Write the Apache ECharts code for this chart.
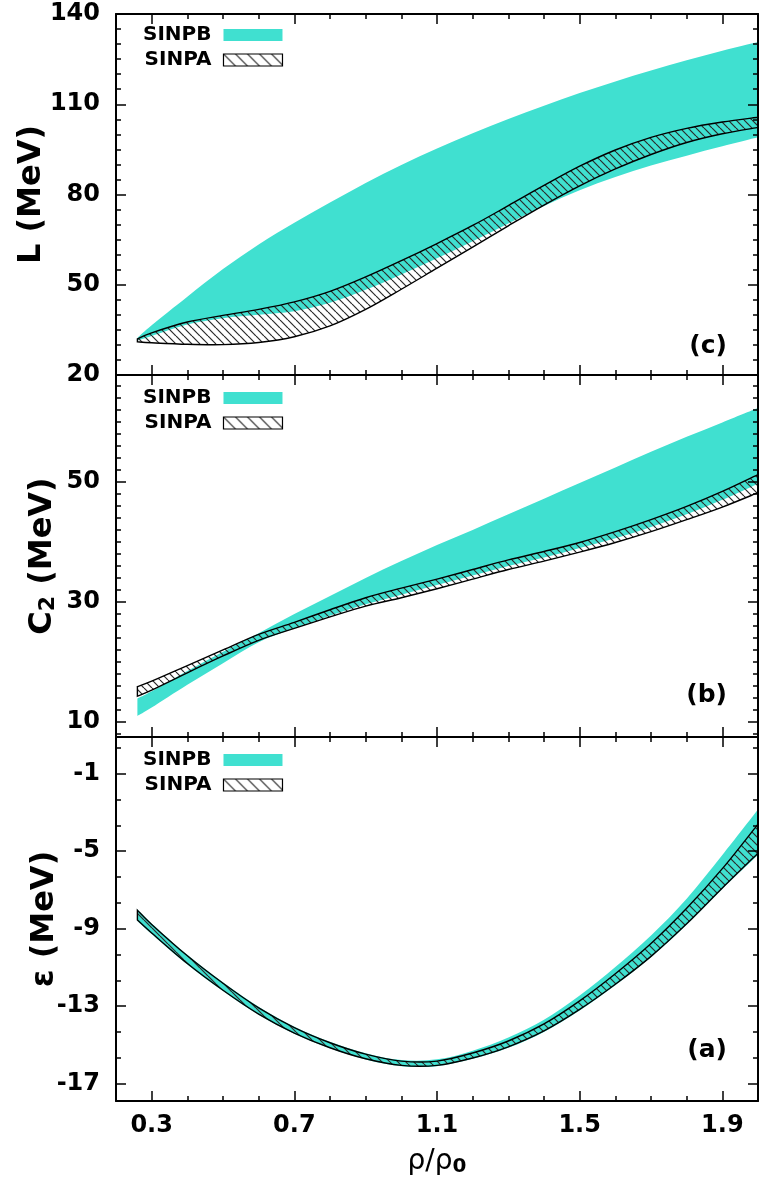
<!DOCTYPE html>
<html>
<head>
<meta charset="utf-8">
<script src="https://cdn.jsdelivr.net/npm/echarts@6/dist/echarts.min.js"></script>
<style>html,body{margin:0;padding:0;background:#fff}#c{width:760px;height:1184px}</style>
</head>
<body>
<div id="c"></div>
<script>
// ---------------- data ----------------
const rho = [0.26, 0.3, 0.4, 0.5, 0.6, 0.7, 0.8, 0.9, 1.0, 1.1, 1.2, 1.3, 1.4, 1.5, 1.6, 1.7, 1.8, 1.9, 2.0];

// panel (c): L (MeV)
const L_sinpb_lo = [31.5, 33.0, 36.8, 38.9, 40.0, 41.2, 44.0, 48.3, 53.4, 58.8, 64.5, 70.4, 76.2, 81.4, 85.8, 89.6, 92.9, 96.0, 99.0];
const L_sinpb_hi = [32.3, 36.5, 46.0, 55.2, 63.4, 70.6, 77.3, 83.8, 89.8, 95.3, 100.4, 105.1, 109.5, 113.7, 117.6, 121.2, 124.6, 127.8, 130.7];
const L_sinpa_lo = [31.0, 30.7, 30.2, 30.1, 30.8, 32.7, 36.3, 41.8, 48.5, 55.5, 62.5, 69.6, 76.5, 82.9, 88.5, 93.3, 97.3, 100.2, 102.3];
const L_sinpa_hi = [32.0, 34.0, 37.6, 39.8, 41.8, 44.3, 47.8, 52.6, 58.0, 63.7, 69.7, 76.3, 83.0, 89.4, 94.8, 99.0, 102.0, 104.1, 105.7];

// panel (b): C2 (MeV)
const C2_sinpb_lo = [11.0, 12.4, 16.2, 19.8, 23.3, 25.6, 27.7, 29.6, 31.2, 32.8, 34.4, 36.0, 37.4, 39.0, 40.6, 42.5, 44.6, 47.0, 49.7];
const C2_sinpb_hi = [13.9, 15.1, 18.5, 21.7, 24.8, 28.0, 31.0, 34.0, 36.8, 39.5, 42.0, 44.6, 47.2, 49.8, 52.4, 55.0, 57.5, 59.9, 62.3];
const C2_sinpa_lo = [14.3, 15.3, 18.2, 21.0, 23.6, 25.6, 27.5, 29.3, 30.7, 32.2, 33.8, 35.4, 36.8, 38.3, 39.9, 41.7, 43.7, 45.8, 48.2];
const C2_sinpa_hi = [15.9, 16.8, 19.4, 22.0, 24.6, 26.6, 28.7, 30.7, 32.3, 33.8, 35.4, 37.0, 38.4, 39.9, 41.7, 43.7, 45.9, 48.4, 51.2];

// panel (a): epsilon (MeV)
const E_sinpb_lo = [-8.6, -9.27, -10.85, -12.22, -13.45, -14.43, -15.18, -15.76, -16.1, -16.1, -15.72, -15.15, -14.33, -13.22, -11.92, -10.48, -8.8, -6.95, -5.2];
const E_sinpb_hi = [-8.0, -8.73, -10.35, -11.77, -13.03, -14.06, -14.84, -15.43, -15.78, -15.75, -15.3, -14.62, -13.7, -12.45, -10.98, -9.35, -7.45, -5.2, -2.85];
const E_sinpa_lo = [-8.55, -9.22, -10.8, -12.18, -13.41, -14.39, -15.15, -15.72, -16.06, -16.06, -15.68, -15.1, -14.28, -13.17, -11.87, -10.43, -8.75, -6.9, -5.1];
const E_sinpa_hi = [-8.05, -8.78, -10.4, -11.82, -13.09, -14.11, -14.89, -15.48, -15.84, -15.84, -15.42, -14.8, -13.92, -12.73, -11.33, -9.77, -7.95, -5.9, -3.6];

// ticks
const xMajorTicks = [0.3, 0.7, 1.1, 1.5, 1.9];
const yTicksL = [20, 50, 80, 110, 140];
const yTicksC2 = [10, 30, 50];
const yTicksE = [-17, -13, -9, -5, -1];

const legendNames = ['SINPB', 'SINPA'];
const panelLabels = ['(c)', '(b)', '(a)'];

// ---------------- style ----------------
const CYAN = '#40E0D0';
const FONT = 'DejaVu Sans';

function makeHatch(size) {
  const c = document.createElement('canvas');
  c.width = size; c.height = size;
  const g = c.getContext('2d');
  g.strokeStyle = '#2b2b2b';
  g.lineWidth = 1.2;
  for (const k of [-size, 0, size]) {
    g.beginPath(); g.moveTo(k, 0); g.lineTo(k + size, size); g.stroke();
  }
  return c;
}
const HATCH = { image: makeHatch(8), repeat: 'repeat' };
const HATCH_LEGEND = { image: makeHatch(12), repeat: 'repeat' };

function minorList(major, step, min, max) {
  const out = [];
  for (let v = major[0]; v >= min - 1e-9; v -= step) out.push(+v.toFixed(6));
  for (let v = major[0] + step; v <= max + 1e-9; v += step) out.push(+v.toFixed(6));
  return out.sort((a, b) => a - b);
}

const panels = [
  { top: 14, height: 361, min: 20, max: 140, ticks: yTicksL, step: 5, name: 'L (MeV)', gap: 68,
    legendTop: 25, labelY: 346, B: [L_sinpb_lo, L_sinpb_hi], A: [L_sinpa_lo, L_sinpa_hi] },
  { top: 375, height: 362, min: 7.5, max: 67.8, ticks: yTicksC2, step: 2, name: '{a|C}{s|2}{a| (MeV)}', gap: 57,
    legendTop: 388, labelY: 695, B: [C2_sinpb_lo, C2_sinpb_hi], A: [C2_sinpa_lo, C2_sinpa_hi] },
  { top: 737, height: 364, min: -17.9, max: 0.9, ticks: yTicksE, step: 4 / 3, name: 'ε (MeV)', gap: 55,
    legendTop: 750, labelY: 1050, B: [E_sinpb_lo, E_sinpb_hi], A: [E_sinpa_lo, E_sinpa_hi] }
];

const labelStyle = { fontFamily: FONT, fontWeight: 'bold', fontSize: 24, color: '#000' };
const axLine = { show: true, onZero: false, lineStyle: { color: '#000', width: 2 } };
const noLine = { show: false, onZero: false };

const grid = [], xAxis = [], yAxis = [], series = [], legend = [], graphic = [];
const xMinor = minorList([0.2], 0.1, 0.2, 2.0);

function curve(pts) {
  let d = '';
  const n = pts.length;
  for (let i = 0; i < n - 1; i++) {
    const p0 = pts[i - 1] || pts[i], p1 = pts[i], p2 = pts[i + 1], p3 = pts[i + 2] || pts[i + 1];
    const t = 1 / 6;
    const c1x = p1[0] + (p2[0] - p0[0]) * t, c1y = p1[1] + (p2[1] - p0[1]) * t;
    const c2x = p2[0] - (p3[0] - p1[0]) * t, c2y = p2[1] - (p3[1] - p1[1]) * t;
    d += ' C' + c1x + ' ' + c1y + ' ' + c2x + ' ' + c2y + ' ' + p2[0] + ' ' + p2[1];
  }
  return d;
}

function band(name, axIdx, lo, hi, fill, stroke) {
  return {
    type: 'custom', name: name, coordinateSystem: 'cartesian2d',
    xAxisIndex: axIdx, yAxisIndex: axIdx, silent: true,
    itemStyle: { color: typeof fill === 'string' ? fill : '#444' },
    data: [[rho[0], lo[0]]],
    renderItem: function (params, api) {
      const low = rho.map((x, k) => api.coord([x, lo[k]]));
      const up = rho.map((x, k) => api.coord([x, hi[k]])).reverse();
      const d = 'M' + low[0][0] + ' ' + low[0][1] + curve(low) +
                ' L' + up[0][0] + ' ' + up[0][1] + curve(up) + ' Z';
      return {
        type: 'path', shape: { pathData: d },
        style: { fill: fill, stroke: stroke, lineWidth: stroke ? 1.4 : 0 }
      };
    }
  };
}

panels.forEach((p, i) => {
  grid.push({ left: 116, right: 2, top: p.top, height: p.height });
  for (const pos of ['bottom', 'top']) {
    xAxis.push({
      gridIndex: i, type: 'value', min: 0.2, max: 2.0, position: pos, z: 10,
      axisLine: axLine,
      axisTick: { inside: true, length: 10, customValues: xMajorTicks, lineStyle: { color: '#000', width: 1.5 } },
      axisLabel: (i === 2 && pos === 'bottom')
        ? Object.assign({ customValues: xMajorTicks, margin: 13 }, labelStyle)
        : { show: false },
      splitLine: { show: false },
      name: (i === 2 && pos === 'bottom') ? '{a|ρ/ρ}{s|0}' : '',
      nameLocation: 'middle', nameGap: 46, nameMoveOverlap: false,
      nameTextStyle: { rich: {
        a: { fontFamily: FONT, fontSize: 28, color: '#000' },
        s: { fontFamily: FONT, fontSize: 20, fontWeight: 'bold', color: '#000', verticalAlign: 'bottom', padding: [10, 0, 0, 0] }
      } }
    });
    xAxis.push({
      gridIndex: i, type: 'value', min: 0.2, max: 2.0, position: pos, z: 10,
      axisLine: noLine,
      axisTick: { inside: true, length: 5, customValues: xMinor, lineStyle: { color: '#000', width: 1.5 } },
      axisLabel: { show: false }, splitLine: { show: false }
    });
  }
  const yMinor = minorList(p.ticks, p.step, p.min, p.max);
  for (const pos of ['left', 'right']) {
    const isLeft = pos === 'left';
    yAxis.push({
      gridIndex: i, type: 'value', min: p.min, max: p.max, position: pos, z: 10,
      axisLine: axLine,
      axisTick: { inside: true, length: 10, customValues: p.ticks, lineStyle: { color: '#000', width: 1.5 } },
      axisLabel: isLeft ? Object.assign({ customValues: p.ticks, margin: 16 }, labelStyle) : { show: false },
      splitLine: { show: false },
      name: isLeft ? p.name : '',
      nameLocation: 'middle', nameRotate: 90, nameGap: p.gap, nameMoveOverlap: false,
      nameTextStyle: {
        fontFamily: FONT, fontWeight: 'bold', fontSize: 32, color: '#000',
        rich: {
          a: { fontFamily: FONT, fontWeight: 'bold', fontSize: 32, color: '#000' },
          s: { fontFamily: FONT, fontWeight: 'bold', fontSize: 22, color: '#000', verticalAlign: 'bottom', padding: [10, 0, 0, 0] }
        }
      }
    });
    yAxis.push({
      gridIndex: i, type: 'value', min: p.min, max: p.max, position: pos, z: 10,
      axisLine: noLine,
      axisTick: { inside: true, length: 5, customValues: yMinor, lineStyle: { color: '#000', width: 1.5 } },
      axisLabel: { show: false }, splitLine: { show: false }
    });
  }
  const ax = 4 * i;
  series.push(band('SINPB', ax, p.B[0], p.B[1], CYAN, null));
  series.push(band('SINPA', ax, p.A[0], p.A[1], HATCH, '#000'));

  legend.push({
    orient: 'vertical', left: 143, top: p.legendTop, align: 'right',
    itemWidth: 59, itemHeight: 12, itemGap: 5, padding: 0, selectedMode: false,
    textStyle: { fontFamily: FONT, fontWeight: 'bold', fontSize: 20, color: '#000', padding: [0, 7, 0, 0] },
    data: [
      { name: legendNames[0], icon: 'rect', itemStyle: { color: CYAN, borderWidth: 0, borderColor: CYAN } },
      { name: legendNames[1], icon: 'rect', itemStyle: { color: HATCH_LEGEND, borderColor: '#000', borderWidth: 1.2 } }
    ]
  });

  graphic.push({
    type: 'text', x: 727, y: p.labelY, z: 20,
    style: { text: panelLabels[i], font: 'bold 25px "DejaVu Sans"', fill: '#000',
             align: 'right', verticalAlign: 'middle', textAlign: 'right', textVerticalAlign: 'middle' }
  });
});

const chart = echarts.init(document.getElementById('c'), null, { renderer: 'canvas' });
chart.setOption({
  animation: false,
  backgroundColor: '#fff',
  grid, xAxis, yAxis, series, legend, graphic
});
</script>
</body>
</html>
